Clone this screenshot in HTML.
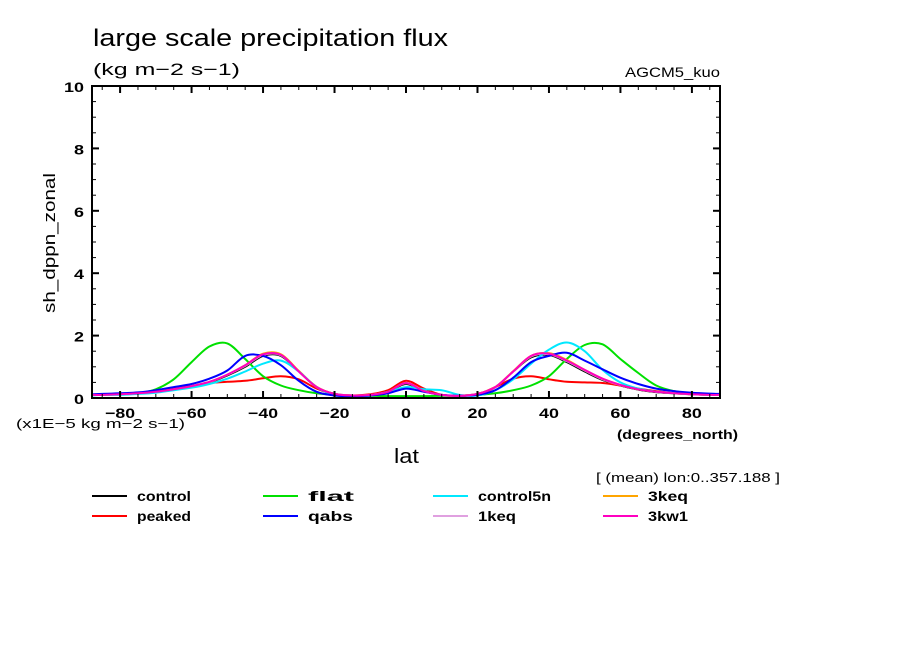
<!DOCTYPE html>
<html><head><meta charset="utf-8"><style>
body{margin:0;background:#fff;}
svg text{font-family:"Liberation Sans",sans-serif;fill:#000;}
</style></head><body>
<svg id="chart" width="904" height="654" viewBox="0 0 904 654" xmlns="http://www.w3.org/2000/svg">
<rect width="904" height="654" fill="#fff"/>
<text x="93" y="46" font-size="24" textLength="355" lengthAdjust="spacingAndGlyphs">large scale precipitation flux</text>
<text x="93" y="75" font-size="17" textLength="147" lengthAdjust="spacingAndGlyphs">(kg m−2 s−1)</text>
<text x="625" y="77" font-size="14" textLength="95" lengthAdjust="spacingAndGlyphs">AGCM5_kuo</text>
<text transform="translate(55,243) rotate(-90)" font-size="17" text-anchor="middle" textLength="140" lengthAdjust="spacingAndGlyphs">sh_dppn_zonal</text>
<text x="16" y="428" font-size="13" textLength="169" lengthAdjust="spacingAndGlyphs">(x1E−5 kg m−2 s−1)</text>
<text x="617" y="439" font-size="13" font-weight="bold" textLength="121" lengthAdjust="spacingAndGlyphs">(degrees_north)</text>
<text x="394" y="463" font-size="20" textLength="25" lengthAdjust="spacingAndGlyphs">lat</text>
<text x="596" y="482" font-size="13" textLength="184" lengthAdjust="spacingAndGlyphs">[ (mean) lon:0..357.188 ]</text>
<g id="plot"></g>
<g id="legend"></g>
</svg>
<script>
const lats=[-88,-85,-80,-75,-70,-65,-60,-55,-50,-45,-40,-35,-30,-25,-20,-15,-10,-5,0,5,10,15,20,25,30,35,40,45,50,55,60,65,70,75,80,85,88];
const controlVals=[.1,.1,.12,.15,.19,.26,.36,.5,.72,1.0,1.35,1.35,.85,.35,.13,.08,.1,.2,.45,.22,.1,.07,.13,.35,.85,1.3,1.38,1.15,.85,.58,.4,.27,.19,.15,.12,.1,.1];
const peakedVals=[.1,.1,.12,.15,.22,.3,.38,.48,.52,.55,.63,.7,.6,.3,.12,.08,.12,.25,.55,.3,.1,.07,.12,.35,.62,.7,.6,.52,.5,.48,.4,.3,.22,.15,.12,.1,.1];
const flatVals=[.1,.1,.12,.15,.28,.6,1.15,1.65,1.75,1.25,.7,.4,.25,.15,.1,.08,.07,.06,.06,.06,.07,.08,.1,.15,.25,.4,.7,1.25,1.7,1.72,1.25,.8,.4,.22,.15,.1,.1];
const qabsVals=[.12,.13,.15,.18,.25,.35,.45,.62,.88,1.35,1.35,1.05,.55,.2,.08,.06,.08,.15,.3,.2,.1,.07,.1,.25,.65,1.15,1.35,1.45,1.2,.92,.65,.45,.3,.22,.17,.14,.13];
const control5nVals=[.08,.1,.1,.13,.17,.25,.33,.45,.62,.85,1.1,1.2,.85,.35,.1,.05,.08,.2,.35,.28,.25,.1,.08,.25,.6,1.1,1.55,1.78,1.5,.9,.5,.3,.2,.15,.12,.1,.1];
const keq1Vals=[.1,.1,.12,.15,.2,.27,.37,.51,.74,1.03,1.38,1.37,.85,.35,.13,.08,.1,.2,.47,.22,.1,.07,.13,.35,.85,1.33,1.4,1.18,.88,.6,.41,.28,.2,.15,.12,.1,.1];
const keq3Vals=[.1,.1,.12,.15,.2,.28,.38,.52,.75,1.05,1.42,1.4,.87,.36,.13,.08,.1,.2,.48,.22,.1,.07,.13,.35,.86,1.35,1.44,1.22,.9,.62,.42,.28,.2,.15,.12,.1,.1];
const kw3Vals=[.1,.1,.12,.15,.2,.28,.38,.52,.75,1.05,1.4,1.38,.85,.35,.13,.08,.1,.2,.48,.22,.1,.07,.13,.35,.85,1.35,1.42,1.2,.9,.62,.42,.28,.2,.15,.12,.1,.1];
const seriesNames=["control","peaked","flat","qabs","control5n","1keq","3keq","3kw1"];
const seriesColors=["#000000","#ff0000","#00e000","#0000ff","#00e8ff","#e0a0e0","#ffa500","#ff00c0"];
const seriesData=[controlVals,peakedVals,flatVals,qabsVals,control5nVals,keq1Vals,keq3Vals,kw3Vals];
const drawOrder=[0,1,2,5,6,4,3,7];
const xTicks=[-80,-60,-40,-20,0,20,40,60,80];
const yTicks=[0,2,4,6,8,10];
const X0=92,X1=720,Y0=398,Y1=86,LMIN=-87.86,LMAX=87.86,VMAX=10;
const sx=l=>X0+(l-LMIN)/(LMAX-LMIN)*(X1-X0);
const sy=v=>Y0-v/VMAX*(Y0-Y1);
const NS="http://www.w3.org/2000/svg";
const plot=document.getElementById('plot');
function mk(tag,attrs,parent){const e=document.createElementNS(NS,tag);for(const k in attrs)e.setAttribute(k,attrs[k]);parent.appendChild(e);return e;}
function pathFor(vals){
  const pts=lats.map((l,i)=>[sx(Math.max(LMIN,Math.min(LMAX,l))),sy(vals[i])]);
  let d="M"+pts[0][0].toFixed(1)+","+pts[0][1].toFixed(1);
  for(let i=0;i<pts.length-1;i++){
    const p0=pts[Math.max(0,i-1)],p1=pts[i],p2=pts[i+1],p3=pts[Math.min(pts.length-1,i+2)];
    const c1=[p1[0]+(p2[0]-p0[0])/6,p1[1]+(p2[1]-p0[1])/6],c2=[p2[0]-(p3[0]-p1[0])/6,p2[1]-(p3[1]-p1[1])/6];
    d+=" C"+c1.map(n=>n.toFixed(1))+" "+c2.map(n=>n.toFixed(1))+" "+p2.map(n=>n.toFixed(1));
  }
  return d;
}
const clip=mk('clipPath',{id:'pc'},plot);mk('rect',{x:X0,y:Y1,width:X1-X0,height:Y0-Y1},clip);
const lg=mk('g',{'clip-path':'url(#pc)'},plot);
drawOrder.forEach(i=>{
  const p=mk('path',{d:pathFor(seriesData[i]),fill:'none',stroke:seriesColors[i],'stroke-width':2},lg);
  
  
});
const frame=mk('rect',{x:X0,y:Y1,width:X1-X0,height:Y0-Y1,fill:'none',stroke:'#000','stroke-width':2},plot);


for(let l=-85;l<=85;l+=5){const x=sx(l);const major=l%20===0;const len=major?7:4;
  mk('line',{x1:x,x2:x,y1:Y0,y2:Y0-len,stroke:'#000','stroke-width':major?2:1},plot);
  mk('line',{x1:x,x2:x,y1:Y1,y2:Y1+len,stroke:'#000','stroke-width':major?2:1},plot);}
for(let v=0;v<=10;v+=0.5){const y=sy(v);const major=v%2===0;const len=major?7:4;
  mk('line',{x1:X0,x2:X0+len,y1:y,y2:y,stroke:'#000','stroke-width':major?2:1},plot);
  mk('line',{x1:X1,x2:X1-len,y1:y,y2:y,stroke:'#000','stroke-width':major?2:1},plot);}
xTicks.forEach(l=>{const s=l===0?"0":(l<0?"−"+(-l):String(l));
  const t=mk('text',{x:sx(l),y:Y0+20,'font-size':14,'font-weight':'bold','text-anchor':'middle',textLength:s.length*10,lengthAdjust:'spacingAndGlyphs'},plot);t.textContent=s;
  
  });
yTicks.forEach(v=>{const s=String(v);const t=mk('text',{x:X0-8,y:sy(v)+6,'font-size':14,'font-weight':'bold','text-anchor':'end',textLength:s.length*10,lengthAdjust:'spacingAndGlyphs'},plot);t.textContent=s;
  
  });
const legend=document.getElementById('legend');
const legOrder=[0,2,4,6,1,3,5,7];
const legCols=[92,263,433,603];
const legWidths=[54,46,73,40,54,45,38,40];
legOrder.forEach((si,k)=>{
  const col=k%4,row=Math.floor(k/4);const x=legCols[col],y=496+row*20;
  const g=mk('g',{},legend);
  
  
  mk('line',{x1:x,x2:x+35,y1:y,y2:y,stroke:seriesColors[si],'stroke-width':2},g);
  const t=mk('text',{x:x+45,y:y+5,'font-size':14,'font-weight':'bold',textLength:legWidths[k],lengthAdjust:'spacingAndGlyphs'},g);t.textContent=seriesNames[si];
});
</script>
</body></html>
